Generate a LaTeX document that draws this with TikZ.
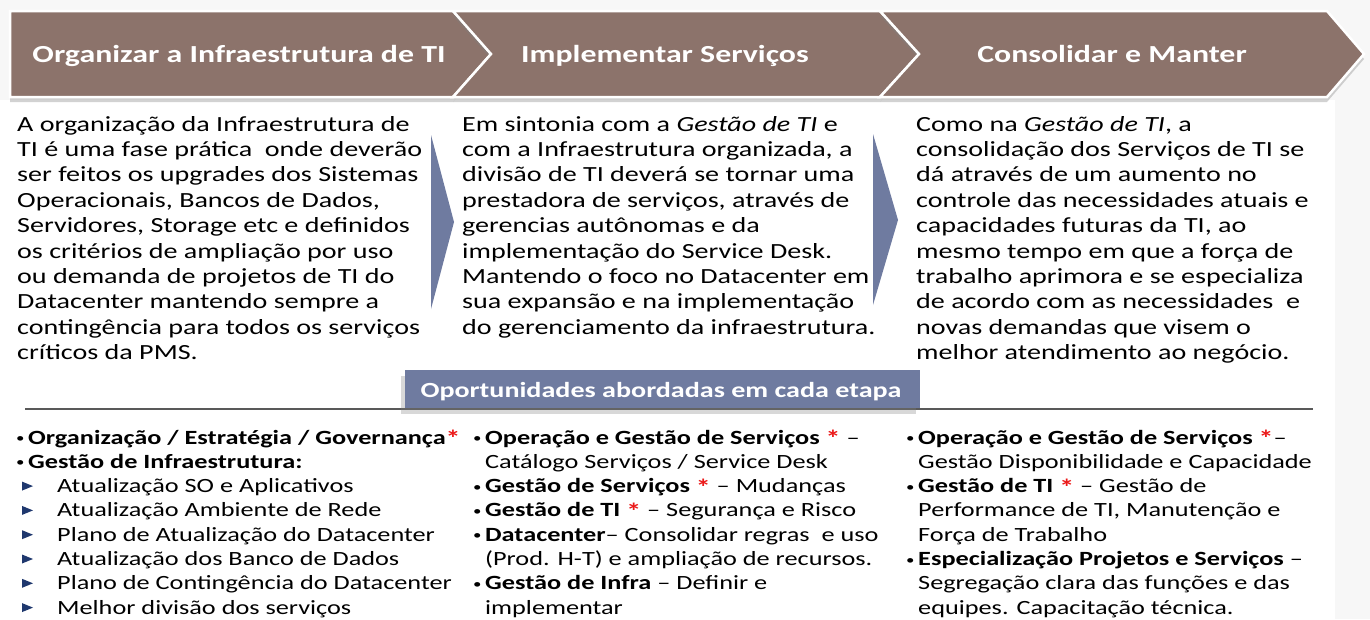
\documentclass[tikz,border=0pt]{standalone}
\usepackage{fontspec}
\setmainfont{Carlito}[FakeStretch=1.3]
\usetikzlibrary{shadows}
\definecolor{bannerbrown}{RGB}{140,115,107}
\definecolor{slate}{RGB}{111,123,160}
\definecolor{navyarrow}{RGB}{31,56,110}
\definecolor{astred}{RGB}{235,25,25}
\newcommand{\redast}{\raisebox{-2.5pt}{\textcolor{astred}{\textbf{\fontsize{23}{23}\selectfont *}}}}
\newcommand{\bul}{\makebox[12pt][l]{\raisebox{1.5pt}{\fontsize{13}{13}\selectfont •}}}
\tikzset{
  bdy/.style={anchor=base west, inner sep=0pt, font=\fontsize{21.6}{25}\selectfont, text=black},
  lst/.style={anchor=base west, inner sep=0pt, font=\fontsize{20.2}{24}\selectfont, text=black},
  ban/.style={fill=bannerbrown, draw=white, line width=2.5pt, line join=miter},
  bantext/.style={text=white, font=\fontsize{24.5}{30}\selectfont\bfseries, inner sep=0pt, anchor=base},
  divtri/.style={fill=slate},
  navtri/.style={fill=navyarrow},
}
\begin{document}
\begin{tikzpicture}[x=1pt,y=-1pt]
\useasboundingbox (0,0) rectangle (1370,619);
\fill[gray!6] (0,0) rectangle (1370,619);
\fill[white] (0,100) rectangle (1335,619);
% banner
\path[ban, drop shadow={opacity=0.35, shadow xshift=0pt, shadow yshift=-5pt}]
  (10,11) -- (453,11) -- (491,54) -- (453,97) -- (10,97) -- cycle;
\path[ban, drop shadow={opacity=0.35, shadow xshift=0pt, shadow yshift=-5pt}]
  (453,11) -- (880,11) -- (919,54) -- (880,97) -- (453,97) -- (491,54) -- cycle;
\path[ban, drop shadow={opacity=0.35, shadow xshift=0pt, shadow yshift=-5pt}]
  (880,11) -- (1327,11) -- (1364,54) -- (1327,97) -- (880,97) -- (919,54) -- cycle;
\node[bantext] (h1) at (239,62) {Organizar a Infraestrutura de TI};
\node[bantext] (h2) at (665,62) {Implementar Serviços};
\node[bantext] (h3) at (1112,62) {Consolidar e Manter};
% dividers
\path[divtri] (431,135) -- (454,222) -- (431,309) -- cycle;
\path[divtri] (873,134) -- (898,220) -- (873,305) -- cycle;
% column 1
\node[bdy] (a1) at (17,131) {A organização da Infraestrutura de};
\node[bdy] (a2) at (17,156.4) {TI é uma fase prática\ \ onde deverão};
\node[bdy] (a3) at (17,181.8) {ser feitos os upgrades dos Sistemas};
\node[bdy] (a4) at (17,207.2) {Operacionais, Bancos de Dados,};
\node[bdy] (a5) at (17,232.6) {Servidores, Storage etc e definidos};
\node[bdy] (a6) at (17,258) {os critérios de ampliação por uso};
\node[bdy] (a7) at (17,283.4) {ou demanda de projetos de TI do};
\node[bdy] (a8) at (17,308.8) {Datacenter mantendo sempre a};
\node[bdy] (a9) at (17,334.2) {contingência para todos os serviços};
\node[bdy] (a10) at (17,359.6) {críticos da PMS.};
% column 2
\node[bdy] (b1) at (462,131) {Em sintonia com a \textit{Gestão de TI} e};
\node[bdy] (b2) at (462,156.4) {com a Infraestrutura organizada, a};
\node[bdy] (b3) at (462,181.8) {divisão de TI deverá se tornar uma};
\node[bdy] (b4) at (462,207.2) {prestadora de serviços, através de};
\node[bdy] (b5) at (462,232.6) {gerencias autônomas e da};
\node[bdy] (b6) at (462,258) {implementação do Service Desk.};
\node[bdy] (b7) at (462,283.4) {Mantendo o foco no Datacenter em};
\node[bdy] (b8) at (462,308.8) {sua expansão e na implementação};
\node[bdy] (b9) at (462,334.2) {do gerenciamento da infraestrutura.};
% column 3
\node[bdy] (c1) at (916,131) {Como na \textit{Gestão de TI}, a};
\node[bdy] (c2) at (916,156.4) {consolidação dos Serviços de TI se};
\node[bdy] (c3) at (916,181.8) {dá através de um aumento no};
\node[bdy] (c4) at (916,207.2) {controle das necessidades atuais e};
\node[bdy] (c5) at (916,232.6) {capacidades futuras da TI, ao};
\node[bdy] (c6) at (916,258) {mesmo tempo em que a força de};
\node[bdy] (c7) at (916,283.4) {trabalho aprimora e se especializa};
\node[bdy] (c8) at (916,308.8) {de acordo com as necessidades\ \ e};
\node[bdy] (c9) at (916,334.2) {novas demandas que visem o};
\node[bdy] (c10) at (916,359.6) {melhor atendimento ao negócio.};
% opportunities bar
\draw[line width=1.5pt, draw=black!65] (25,409) -- (1313,409);
\path[fill=slate, drop shadow={opacity=0.3, shadow xshift=-4pt, shadow yshift=-6pt}] (405,370) rectangle (920,408);
\node[text=white, font=\fontsize{21.6}{26}\selectfont\bfseries, inner sep=0pt, anchor=base] (bar) at (661,397) {Oportunidades abordadas em cada etapa};
% bottom column 1
\node[lst] (p1) at (16,444) {\bul\textbf{Organização / Estratégia / Governança}\redast};
\node[lst] (p2) at (16,468.3) {\bul\textbf{Gestão de Infraestrutura:}};
\node[lst] (p3) at (57,492.6) {Atualização SO e Aplicativos};
\node[lst] (p4) at (57,516.9) {Atualização Ambiente de Rede};
\node[lst] (p5) at (57,541.2) {Plano de Atualização do Datacenter};
\node[lst] (p6) at (57,565.5) {Atualização dos Banco de Dados};
\node[lst] (p7) at (57,589.8) {Plano de Contingência do Datacenter};
\node[lst] (p8) at (57,614.1) {Melhor divisão dos serviços};
\foreach \yy in {492.6,516.9,541.2,565.5,589.8,614.1}
  \path[navtri] (22,\yy-11) -- (33,\yy-6.5) -- (22,\yy-2) -- cycle;
% bottom column 2
\node[lst] (q1) at (473,444) {\bul\textbf{Operação e Gestão de Serviços} \redast\ –};
\node[lst] (q2) at (485,468.3) {Catálogo Serviços / Service Desk};
\node[lst] (q3) at (473,492.6) {\bul\textbf{Gestão de Serviços} \redast\ – Mudanças};
\node[lst] (q4) at (473,516.9) {\bul\textbf{Gestão de TI} \redast\ – Segurança e Risco};
\node[lst] (q5) at (473,541.2) {\bul\textbf{Datacenter}– Consolidar regras\ \ e uso};
\node[lst] (q6) at (485,565.5) {(Prod. H-T) e ampliação de recursos.};
\node[lst] (q7) at (473,589.8) {\bul\textbf{Gestão de Infra} – Definir e};
\node[lst] (q8) at (485,614.1) {implementar};
% bottom column 3
\node[lst] (r1) at (906,444) {\bul\textbf{Operação e Gestão de Serviços} \redast–};
\node[lst] (r2) at (918,468.3) {Gestão Disponibilidade e Capacidade};
\node[lst] (r3) at (906,492.6) {\bul\textbf{Gestão de TI} \redast\ – Gestão de};
\node[lst] (r4) at (918,516.9) {Performance de TI, Manutenção e};
\node[lst] (r5) at (918,541.2) {Força de Trabalho};
\node[lst] (r6) at (906,565.5) {\bul\textbf{Especialização Projetos e Serviços} –};
\node[lst] (r7) at (918,589.8) {Segregação clara das funções e das};
\node[lst] (r8) at (918,614.1) {equipes. Capacitação técnica.};
\end{tikzpicture}
\end{document}
